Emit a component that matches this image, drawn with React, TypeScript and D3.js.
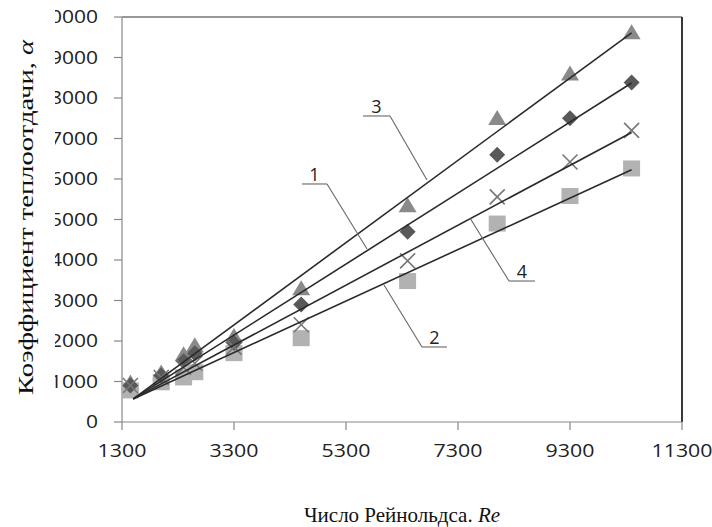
import React from "react";
import * as d3 from "d3";

// Reynolds numbers at which the heat-transfer coefficient was measured
const reynolds = [1450, 2000, 2400, 2600, 3300, 4500, 6400, 8000, 9300, 10400];

// Measured heat-transfer coefficient, α, for the four cases
const alpha3 = [950, 1200, 1650, 1870, 2100, 3280, 5330, 7480, 8580, 9600]; // triangles
const alpha1 = [900, 1150, 1500, 1700, 1950, 2900, 4700, 6600, 7500, 8380]; // diamonds
const alpha4 = [900, 1100, 1350, 1450, 1850, 2400, 3980, 5560, 6420, 7200]; // crosses
const alpha2 = [780, 980, 1100, 1230, 1700, 2070, 3480, 4900, 5580, 6260]; // squares

// Linear trend lines: Re range and α at both ends
const trendRe = [1500, 10400];
const trend3 = [570, 9610];
const trend1 = [570, 8370];
const trend4 = [570, 7150];
const trend2 = [570, 6230];

// Axis ticks
const xTicks = [1300, 3300, 5300, 7300, 9300, 11300];
const yTicks = [0, 1000, 2000, 3000, 4000, 5000, 6000, 7000, 8000, 9000, 10000];

// Curve labels: text, underline start/end Re, underline α, leader target (Re, α)
const labelNames = ["3", "1", "2", "4"];
const labelRe0 = [5604, 4514, 6657, 8211];
const labelRe1 = [6086, 4961, 7104, 8675];
const labelAlpha = [7556, 5877, 1852, 3481];
const leaderSide = [1, 1, 0, 0]; // 1: leader leaves from right end of underline, 0: from left end
const leaderRe = [6746, 5675, 5979, 7514];
const leaderAlpha = [5975, 4272, 3383, 5037];

const W = 712;
const H = 527;
const plot = { left: 122, right: 682, top: 17, bottom: 422 };

export default function App() {
  const x = d3.scaleLinear().domain([1300, 11300]).range([plot.left, plot.right]);
  const y = d3.scaleLinear().domain([0, 10000]).range([plot.bottom, plot.top]);
  const line = d3
    .line<[number, number]>()
    .x((d) => x(d[0]))
    .y((d) => y(d[1]));

  const trends = [trend3, trend1, trend4, trend2];
  const tickFont = "'Open Sans', 'DejaVu Sans', sans-serif";
  const serif = "'Liberation Serif', 'Times New Roman', serif";

  const triangle = (cx: number, cy: number) => {
    const w = 9, h = 15;
    return `M${cx},${cy - h * 0.6}L${cx + w},${cy + h * 0.4}L${cx - w},${cy + h * 0.4}Z`;
  };
  const diamond = (cx: number, cy: number) => {
    const r = 8;
    return `M${cx},${cy - r}L${cx + r},${cy}L${cx},${cy + r}L${cx - r},${cy}Z`;
  };
  const cross = (cx: number, cy: number) => {
    const r = 7.5;
    return `M${cx - r},${cy - r}L${cx + r},${cy + r}M${cx + r},${cy - r}L${cx - r},${cy + r}`;
  };

  return (
    <svg
      width={W}
      height={H}
      style={{ position: "absolute", left: 0, top: 0, background: "#fff" }}
    >
      <rect x={0} y={0} width={W} height={H} fill="#fff" />

      {/* axes and frame */}
      <line x1={plot.left} x2={plot.right} y1={plot.top} y2={plot.top} stroke="#777" strokeWidth={1.3} />
      <line x1={plot.right} x2={plot.right} y1={plot.top} y2={plot.bottom} stroke="#222" strokeWidth={1.8} />
      <line x1={plot.left} x2={plot.left} y1={plot.top} y2={plot.bottom} stroke="#888" strokeWidth={1.2} />
      <line x1={plot.left} x2={plot.right} y1={plot.bottom} y2={plot.bottom} stroke="#888" strokeWidth={1.2} />

      {yTicks.map((t) => (
        <g key={"y" + t}>
          <line x1={plot.left - 8} x2={plot.left} y1={y(t)} y2={y(t)} stroke="#888" strokeWidth={1.2} />
          <text
            x={98}
            y={y(t) + 6}
            textAnchor="end"
            fontFamily={tickFont}
            fontSize={17.5}
            fill="#222"
            textLength={12 * String(t).length}
            lengthAdjust="spacingAndGlyphs"
          >
            {t}
          </text>
        </g>
      ))}

      {xTicks.map((t) => (
        <g key={"x" + t}>
          <line x1={x(t)} x2={x(t)} y1={plot.bottom} y2={plot.bottom + 8} stroke="#888" strokeWidth={1.2} />
          <text
            x={x(t)}
            y={457}
            textAnchor="middle"
            fontFamily={tickFont}
            fontSize={17.5}
            fill="#222"
            textLength={12.2 * String(t).length}
            lengthAdjust="spacingAndGlyphs"
          >
            {t}
          </text>
        </g>
      ))}

      {/* markers */}
      <g>
        {reynolds.map((re, i) => (
          <path key={"t" + i} d={triangle(x(re), y(alpha3[i]))} fill="#8a8a8a" />
        ))}
        {reynolds.map((re, i) => (
          <rect
            key={"s" + i}
            x={x(re) - 8.5}
            y={y(alpha2[i]) - 8}
            width={17}
            height={16}
            fill="#b2b2b2"
          />
        ))}
        {reynolds.map((re, i) => (
          <path key={"d" + i} d={diamond(x(re), y(alpha1[i]))} fill="#595959" />
        ))}
        {reynolds.map((re, i) => (
          <path key={"c" + i} d={cross(x(re), y(alpha4[i]))} stroke="#777" strokeWidth={1.6} fill="none" />
        ))}
      </g>

      {/* trend lines */}
      {trends.map((tr, k) => (
        <path
          key={"tr" + k}
          d={line([
            [trendRe[0], tr[0]],
            [trendRe[1], tr[1]],
          ]) as string}
          stroke="#2a2a2a"
          strokeWidth={1.6}
          fill="none"
        />
      ))}

      {/* curve numbers with leader lines */}
      {labelNames.map((name, i) => {
        const x0 = x(labelRe0[i]);
        const x1 = x(labelRe1[i]);
        const yy = y(labelAlpha[i]);
        const sx = leaderSide[i] ? x1 : x0;
        return (
          <g key={"lab" + i}>
            <line x1={x0} x2={x1} y1={yy} y2={yy} stroke="#666" strokeWidth={1.1} />
            <line x1={sx} y1={yy} x2={x(leaderRe[i])} y2={y(leaderAlpha[i])} stroke="#666" strokeWidth={1.1} />
            <text
              x={(x0 + x1) / 2}
              y={yy - 3}
              textAnchor="middle"
              fontFamily={tickFont}
              fontSize={18}
              fill="#222"
            >
              {name}
            </text>
          </g>
        );
      })}

      {/* blank strip at the far left */}
      <rect x={0} y={0} width={55} height={440} fill="#fff" />

      {/* axis titles */}
      <text
        transform={`translate(33,${(40 + 395) / 2}) rotate(-90)`}
        textAnchor="middle"
        fontFamily={serif}
        fontSize={22}
        fill="#111"
        textLength={355}
        lengthAdjust="spacingAndGlyphs"
      >
        Коэффициент теплоотдачи, <tspan fontStyle="italic">α</tspan>
      </text>
      <text
        x={402}
        y={522}
        textAnchor="middle"
        fontFamily={serif}
        fontSize={21}
        fill="#111"
      >
        Число Рейнольдса. <tspan fontStyle="italic">Re</tspan>
      </text>
    </svg>
  );
}
